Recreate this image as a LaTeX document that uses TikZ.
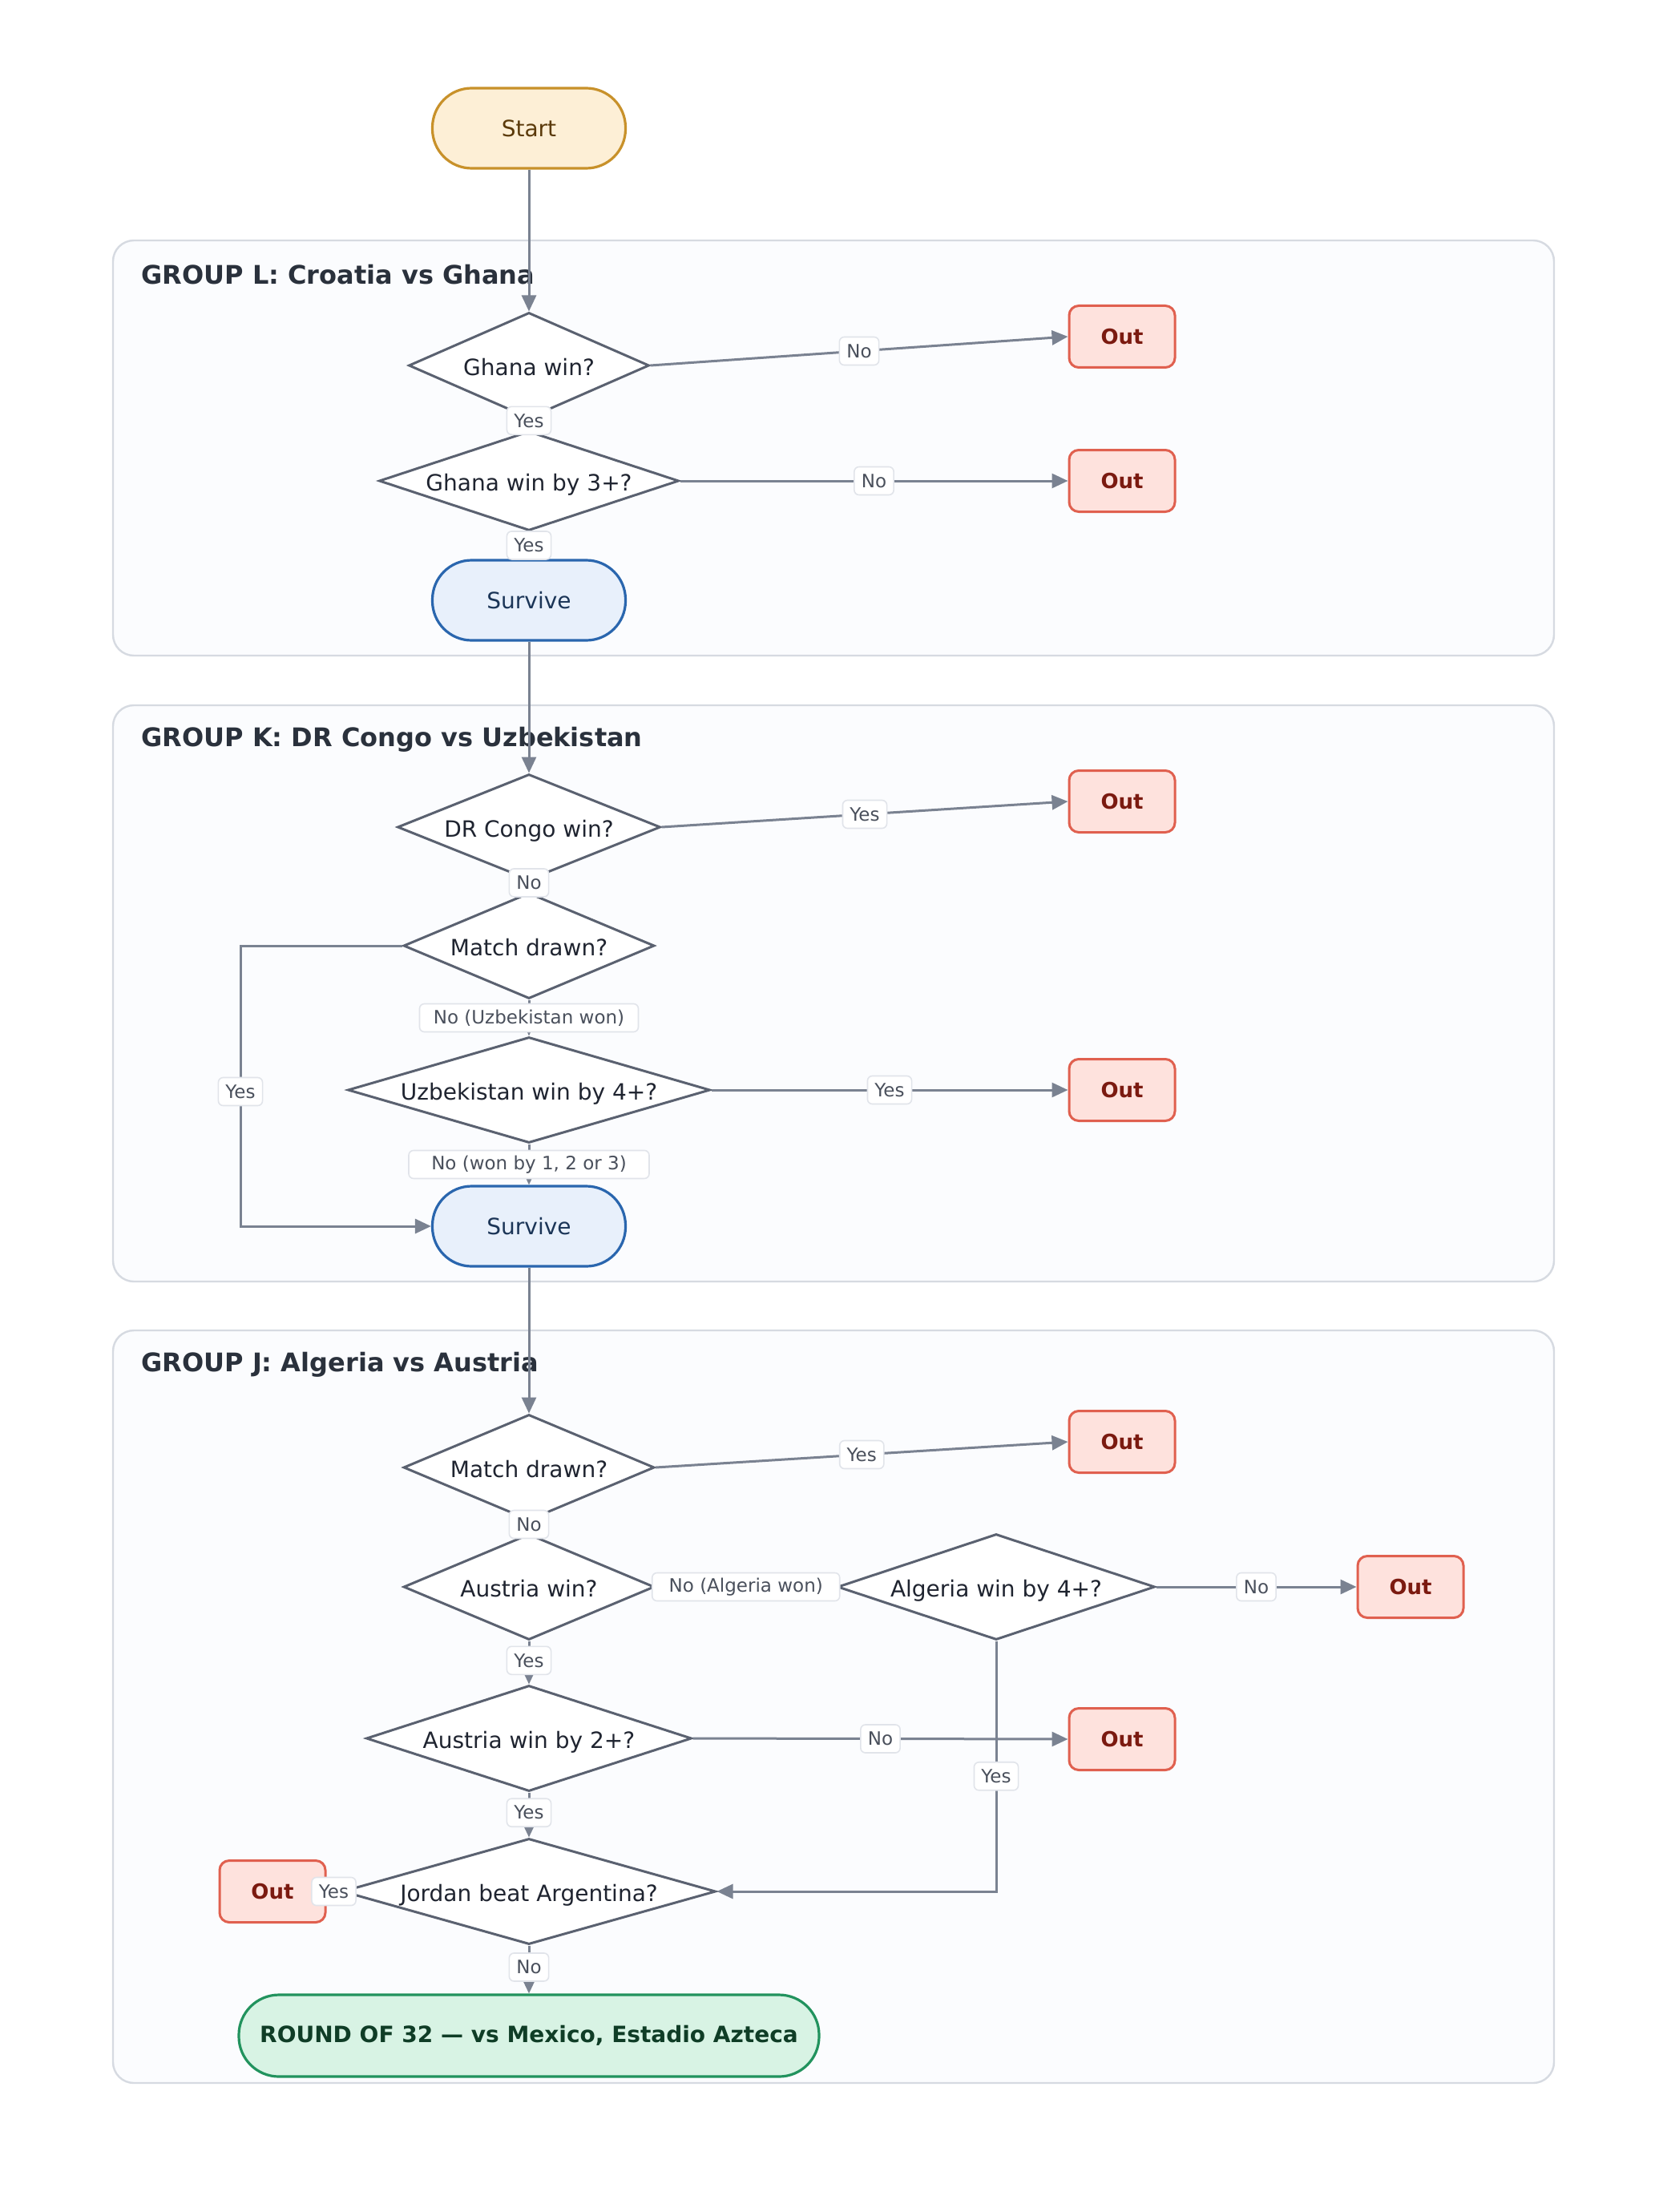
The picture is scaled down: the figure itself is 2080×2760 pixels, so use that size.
\documentclass[tikz,border=0pt]{standalone}
\usepackage{fontspec}
\setmainfont{DejaVu Sans}
\usetikzlibrary{shapes.geometric,arrows.meta}
\definecolor{dcol}{HTML}{5A6170}
\definecolor{dtext}{HTML}{1F2430}
\definecolor{ecol}{HTML}{7A8291}
\definecolor{outb}{HTML}{E0604F}
\definecolor{outf}{HTML}{FEE2DD}
\definecolor{outt}{HTML}{7B1A10}
\definecolor{startb}{HTML}{C8912A}
\definecolor{startf}{HTML}{FDEFD6}
\definecolor{startt}{HTML}{5B3A0A}
\definecolor{survb}{HTML}{2A66AE}
\definecolor{survf}{HTML}{E8F0FB}
\definecolor{survt}{HTML}{1B3557}
\definecolor{finb}{HTML}{22935E}
\definecolor{finf}{HTML}{D8F3E4}
\definecolor{fint}{HTML}{0F3D26}
\definecolor{gb}{HTML}{D6DAE1}
\definecolor{gf}{HTML}{FBFCFE}
\definecolor{gt}{HTML}{2A313C}
\definecolor{lblb}{HTML}{E1E4EA}
\definecolor{lblt}{HTML}{4A505C}
\tikzset{
  dec/.style={diamond, draw=dcol, fill=white, line width=1.5pt, aspect=3.5, inner sep=0pt,
    font=\fontsize{14}{16}\selectfont, text=dtext, minimum height=66pt, text height=12.5pt, text depth=0pt},
  outbox/.style={rectangle, rounded corners=6pt, draw=outb, fill=outf, line width=1.5pt,
    minimum width=66pt, minimum height=38.5pt, inner sep=0pt,
    font=\bfseries\fontsize{13}{15}\selectfont, text=outt},
  pill/.style={rectangle, rounded corners=24.5pt, minimum width=120.5pt, minimum height=50pt,
    inner sep=0pt, line width=1.6pt, font=\fontsize{14}{16}\selectfont},
  startst/.style={pill, draw=startb, fill=startf, text=startt},
  survst/.style={pill, draw=survb, fill=survf, text=survt},
  finalst/.style={pill, draw=finb, fill=finf, text=fint, minimum width=362pt, minimum height=51pt,
    rounded corners=25pt, font=\bfseries\fontsize{14}{16}\selectfont},
  lbl/.style={rectangle, rounded corners=3pt, draw=lblb, fill=white, line width=0.8pt,
    font=\fontsize{11.5}{13}\selectfont, text=lblt, inner xsep=4.5pt, inner ysep=0pt, minimum height=17.5pt},
  arr/.style={draw=ecol, line width=1.5pt, -{Triangle[length=10pt,width=9pt]}},
  grp/.style={draw=gb, fill=gf, line width=1.2pt, rounded corners=13pt},
  gtitle/.style={anchor=west, inner sep=0pt, font=\bfseries\fontsize{16}{19}\selectfont, text=gt}
}
\begin{document}
\begin{tikzpicture}[x=0.5pt,y=-0.5pt]
\useasboundingbox[fill=white] (0,0) rectangle (2080,2760);
% groups
\draw[grp] (141,300) rectangle (1939,818);
\draw[grp] (141,880) rectangle (1939,1599);
\draw[grp] (141,1660) rectangle (1939,2599);
\node[gtitle] (tl) at (176,343) {GROUP L: Croatia vs Ghana};
\node[gtitle] (tk) at (176,923) {GROUP K: DR Congo vs Uzbekistan};
\node[gtitle] (tj) at (176,1703) {GROUP J: Algeria vs Austria};
% nodes
\node[startst] (start) at (660,160) {Start};
\node[dec, minimum width=150pt] (gl1) at (660,456) {Ghana win?};
\node[dec, minimum width=187pt, minimum height=62pt] (gl2) at (660,600) {Ghana win by 3+?};
\node[survst] (s1) at (660,749) {Survive};
\node[outbox] (o1) at (1400,420) {Out};
\node[outbox] (o2) at (1400,600) {Out};

\node[dec, minimum width=164pt] (gk1) at (660,1032) {DR Congo win?};
\node[dec, minimum width=156.5pt] (gk2) at (660,1180) {Match drawn?};
\node[dec, minimum width=226pt] (gk3) at (660,1360) {Uzbekistan win by 4+?};
\node[survst] (s2) at (660,1530) {Survive};
\node[outbox] (o3) at (1400,1000) {Out};
\node[outbox] (o4) at (1400,1360) {Out};
\coordinate (kb1) at (300,1180);
\coordinate (kb2) at (300,1530);

\node[dec, minimum width=156.5pt] (gj1) at (660,1831) {Match drawn?};
\node[dec, minimum width=156.5pt] (gj2) at (660,1980) {Austria win?};
\node[dec, minimum width=198pt] (alg) at (1243,1980) {Algeria win by 4+?};
\node[dec, minimum width=203pt] (gj3) at (660,2169) {Austria win by 2+?};
\node[dec, minimum width=233pt] (jor) at (660,2360) {Jordan beat Argentina?};
\node[finalst] (fin) at (660,2540) {ROUND OF 32 — vs Mexico, Estadio Azteca};
\node[outbox] (o5) at (1400,1799) {Out};
\node[outbox] (o6) at (1760,1980) {Out};
\node[outbox] (o7) at (1400,2170) {Out};
\node[outbox] (o8) at (340,2360) {Out};
\coordinate (jb1) at (1243,2360);
% edges group L
\draw[arr] (start.south) -- (gl1.north);
\draw[arr] (gl1.east) -- node[lbl] {No} (o1.west);
\draw[arr] (gl1.south) -- node[lbl, pos=0.1] {Yes} (gl2.north);
\draw[arr] (gl2.east) -- node[lbl] {No} (o2.west);
\draw[arr] (gl2.south) -- node[lbl] {Yes} (s1.north);
% group K
\draw[arr] (s1.south) -- (gk1.north);
\draw[arr] (gk1.east) -- node[lbl] {Yes} (o3.west);
\draw[arr] (gk1.south) -- node[lbl, pos=0.15] {No} (gk2.north);
\draw[arr] (gk2.west) -- (kb1) -- node[lbl, pos=0.52] {Yes} (kb2) -- (s2.west);
\draw[arr] (gk2.south) -- node[lbl, minimum width=136.5pt] {No (Uzbekistan won)} (gk3.north);
\draw[arr] (gk3.east) -- node[lbl] {Yes} (o4.west);
\draw[arr] (gk3.south) -- node[lbl, minimum width=150pt] {No (won by 1, 2 or 3)} (s2.north);
% group J
\draw[arr] (s2.south) -- (gj1.north);
\draw[arr] (gj1.east) -- node[lbl] {Yes} (o5.west);
\draw[arr] (gj1.south) -- node[lbl, pos=0.25] {No} (gj2.north);
\draw[arr] (gj2.east) -- node[lbl, minimum width=117pt] {No (Algeria won)} (alg.west);
\draw[arr] (alg.east) -- node[lbl] {No} (o6.west);
\draw[arr] (gj2.south) -- node[lbl, pos=0.45] {Yes} (gj3.north);
\draw[arr] (gj3.east) -- node[lbl] {No} (o7.west);
\draw[arr] (alg.south) -- node[lbl, pos=0.54] {Yes} (jb1) -- (jor.east);
\draw[arr] (gj3.south) -- node[lbl, pos=0.45] {Yes} (jor.north);
\draw[arr] (jor.west) -- node[lbl] {Yes} (o8.east);
\draw[arr] (jor.south) -- node[lbl, pos=0.45] {No} (fin.north);
\end{tikzpicture}
\end{document}
